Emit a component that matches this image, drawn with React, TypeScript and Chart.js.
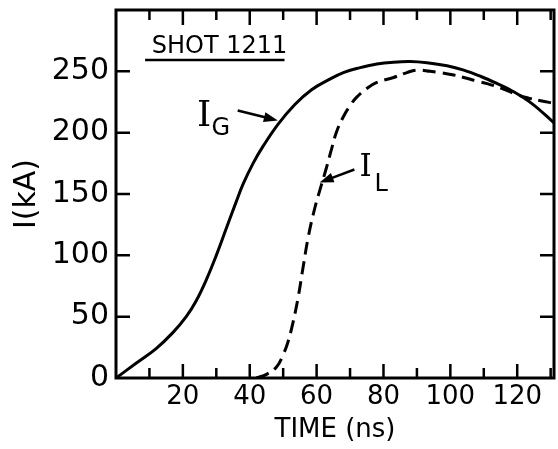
import React, { useEffect, useRef } from "react";
import { Chart, registerables } from "chart.js";

Chart.register(...registerables);

// Generator current I_G (solid) — time in ns, current in kA
const gTime = [0, 6, 12, 17, 21, 24, 27, 30, 33, 36, 38, 41, 44, 48.5, 53.5, 58.5, 63.5, 68, 73, 78, 83, 88, 93, 99, 104, 109, 114, 118.5, 124.5, 131];
const gCurrent = [0, 12, 24, 37, 50, 63, 80, 100, 122, 144, 158, 175, 189, 207, 223, 235, 243, 249, 253, 256, 257.5, 258, 257, 254.5, 251, 246, 240, 234, 223.5, 208];

// Load current I_L (dashed)
const lTime = [42, 45, 48, 50, 51.5, 53, 54.5, 56, 57.5, 59.5, 61.5, 63, 64.5, 66, 68, 70, 72, 75, 78, 83, 87, 90, 94, 97, 101, 104, 108, 111, 115.5, 119, 123, 127, 131];
const lCurrent = [0, 3, 9, 19, 30, 46, 66, 91, 115, 139, 158, 172, 187, 201, 213, 222, 229, 236, 241, 245, 249, 251, 250, 249, 247, 245, 242, 240, 236, 232, 228.5, 226, 224];

const xLabels = [20, 40, 60, 80, 100, 120];
const xMinorTicks = [10, 20, 30, 40, 50, 60, 70, 80, 90, 100, 110, 120, 130];
const yLabels = [0, 50, 100, 150, 200, 250];

const X_MAX = 131;
const Y_MAX = 300;
const SANS = "'DejaVu Sans', sans-serif";
const SERIF = "'DejaVu Serif', serif";

function arrow(ctx: CanvasRenderingContext2D, x1: number, y1: number, x2: number, y2: number) {
  const ang = Math.atan2(y2 - y1, x2 - x1);
  const head = 14;
  const half = 5;
  ctx.beginPath();
  ctx.moveTo(x1, y1);
  ctx.lineTo(x2 - Math.cos(ang) * head * 0.8, y2 - Math.sin(ang) * head * 0.8);
  ctx.stroke();
  ctx.beginPath();
  ctx.moveTo(x2, y2);
  ctx.lineTo(x2 - Math.cos(ang) * head - Math.sin(ang) * half, y2 - Math.sin(ang) * head + Math.cos(ang) * half);
  ctx.lineTo(x2 - Math.cos(ang) * head + Math.sin(ang) * half, y2 - Math.sin(ang) * head - Math.cos(ang) * half);
  ctx.closePath();
  ctx.fill();
}

// Box frame, inward tick marks and the in-plot labels
const framePlugin = {
  id: "frameAndNotes",
  afterDatasetsDraw(chart: any) {
    const { ctx, chartArea: a, scales } = chart;
    const xs = scales.x;
    const ys = scales.y;
    const px = (v: number) => xs.getPixelForValue(v);
    const py = (v: number) => ys.getPixelForValue(v);
    ctx.save();
    ctx.strokeStyle = "#000";
    ctx.fillStyle = "#000";
    ctx.lineWidth = 3;
    ctx.lineCap = "butt";
    ctx.strokeRect(a.left, a.top, a.right - a.left, a.bottom - a.top);

    ctx.lineWidth = 2.5;
    ctx.beginPath();
    for (const v of xMinorTicks) {
      if (v >= X_MAX) continue;
      const x = px(v);
      const major = v % 20 === 0;
      ctx.moveTo(x, a.bottom);
      ctx.lineTo(x, a.bottom - (major ? 14 : 10));
      ctx.moveTo(x, a.top);
      ctx.lineTo(x, a.top + (major ? 15 : 10));
    }
    for (const v of yLabels) {
      if (v === 0) continue;
      const y = py(v);
      ctx.moveTo(a.left, y);
      ctx.lineTo(a.left + 14, y);
      ctx.moveTo(a.right, y);
      ctx.lineTo(a.right - 14, y);
    }
    ctx.stroke();

    // Shot title, underlined
    ctx.font = `24px ${SANS}`;
    ctx.textAlign = "left";
    ctx.textBaseline = "alphabetic";
    ctx.fillText("SHOT 1211", px(10.7), py(265));
    ctx.lineWidth = 2.5;
    ctx.beginPath();
    ctx.moveTo(px(8.7), py(259.3));
    ctx.lineTo(px(50.4), py(259.3));
    ctx.stroke();

    // I_G label and arrow
    ctx.font = `36px ${SERIF}`;
    ctx.fillText("I", px(24.2), py(205.7));
    ctx.font = `24px ${SANS}`;
    ctx.fillText("G", px(28.6), py(198.5));
    ctx.lineWidth = 2.5;
    arrow(ctx, px(36.4), py(218), px(48.4), py(210));

    // I_L label and arrow
    ctx.font = `31px ${SERIF}`;
    ctx.fillText("I", px(72.8), py(165));
    ctx.font = `24px ${SANS}`;
    ctx.fillText("L", px(77.3), py(152.8));
    arrow(ctx, px(71.3), py(170), px(60.9), py(159.3));
    ctx.restore();
  },
};

export default function App() {
  const ref = useRef<HTMLCanvasElement>(null);

  useEffect(() => {
    if (!ref.current) return;
    Chart.defaults.font.family = SANS;
    Chart.defaults.color = "#000";
    const chart = new Chart(ref.current, {
      type: "line",
      data: {
        datasets: [
          {
            label: "I_G",
            data: gTime.map((t, i) => ({ x: t, y: gCurrent[i] })),
            borderColor: "#000",
            borderWidth: 3,
            pointRadius: 0,
            tension: 0.4,
            fill: false,
          },
          {
            label: "I_L",
            data: lTime.map((t, i) => ({ x: t, y: lCurrent[i] })),
            borderColor: "#000",
            borderWidth: 3,
            borderDash: [13, 7],
            pointRadius: 0,
            tension: 0.4,
            fill: false,
          },
        ],
      },
      options: {
        responsive: false,
        maintainAspectRatio: false,
        animation: false,
        layout: { padding: { top: 10, right: 4, left: 0, bottom: 0 } },
        plugins: { legend: { display: false }, tooltip: { enabled: false } },
        scales: {
          x: {
            type: "linear",
            min: 0,
            max: X_MAX,
            grid: { display: false, drawTicks: false },
            border: { display: false },
            afterBuildTicks: (s: any) => {
              s.ticks = xLabels.map((v) => ({ value: v }));
            },
            ticks: { padding: 4, maxRotation: 0, autoSkip: false, color: "#000", font: { size: 26 } },
            title: {
              display: true,
              text: "TIME (ns)",
              color: "#000",
              font: { size: 26 },
              padding: { top: 0, bottom: 3 },
            },
            afterFit: (s: any) => {
              s.height = 71;
              s.paddingLeft = 0;
              s.paddingRight = 0;
            },
          },
          y: {
            type: "linear",
            min: 0,
            max: Y_MAX,
            grid: { display: false, drawTicks: false },
            border: { display: false },
            afterBuildTicks: (s: any) => {
              s.ticks = yLabels.map((v) => ({ value: v }));
            },
            ticks: { padding: 7, autoSkip: false, color: "#000", font: { size: 30 } },
            title: {
              display: true,
              text: "I(kA)",
              color: "#000",
              font: { size: 30 },
              padding: { top: 9, bottom: 0 },
            },
            afterFit: (s: any) => {
              s.width = 116;
              s.paddingTop = 0;
              s.paddingBottom = 0;
            },
          },
        },
      },
      plugins: [framePlugin],
    } as any);
    return () => chart.destroy();
  }, []);

  return (
    <div style={{ position: "fixed", left: 0, top: 0, width: 558, height: 449, background: "#fff" }}>
      <canvas ref={ref} width={558} height={449} style={{ display: "block", width: 558, height: 449 }} />
    </div>
  );
}
